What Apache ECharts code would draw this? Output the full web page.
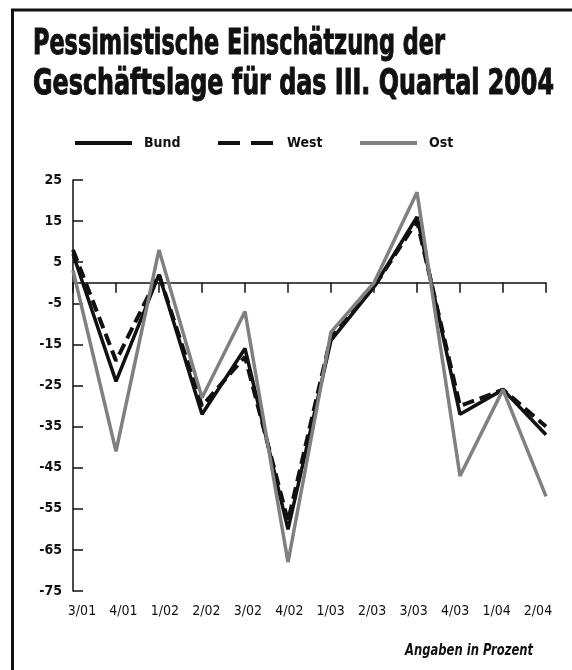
<!DOCTYPE html>
<html>
<head>
<meta charset="utf-8">
<script src="https://cdn.jsdelivr.net/npm/echarts@6/dist/echarts.min.js"></script>
<style>
html,body{margin:0;padding:0;background:#fff;}
#chart{width:572px;height:670px;}
</style>
</head>
<body>
<div id="chart"></div>
<script>
// ---- data ----
const categories = ['3/01','4/01','1/02','2/02','3/02','4/02','1/03','2/03','3/03','4/03','1/04','2/04'];
const bund = [7, -24, 2, -32, -16, -60, -14, -1, 16, -32, -26, -37];
const west = [8, -19, 2, -30, -18, -58, -13, -1, 15, -30, -26, -35];
const ost  = [3, -41, 8, -28, -7, -68, -12, 0, 22, -47, -26, -52];
const yTicks = [25, 15, 5, -5, -15, -25, -35, -45, -55, -65, -75];
const titleLines = ['Pessimistische Einschätzung der', 'Geschäftslage für das III. Quartal 2004'];
const seriesNames = ['Bund', 'West', 'Ost'];
const noteText = 'Angaben in Prozent';

const FONT = "'DejaVu Sans Condensed', 'Liberation Sans Narrow', 'Roboto', sans-serif";
const INK = '#111111';
const GREY = '#808080';

function measure(text, font) {
  const c = document.createElement('canvas').getContext('2d');
  c.font = font;
  return c.measureText(text).width;
}
const titleFont = 'bold 36px ' + FONT;
const t1Scale = 412 / measure(titleLines[0], titleFont);
const t2Scale = 521 / measure(titleLines[1], titleFont);
const noteFont = 'italic bold 15px ' + FONT;
const noteScale = Math.min(1, 128 / measure(noteText, noteFont));

const chart = echarts.init(document.getElementById('chart'), null, {renderer: 'canvas'});

function legendFor(name, left, lineType) {
  return {
    left: left,
    top: 136,
    padding: 0,
    itemWidth: 57,
    itemHeight: 3,
    itemStyle: {opacity: 0},
    lineStyle: {width: 4, type: lineType},
    textStyle: {fontFamily: FONT, fontWeight: 'bold', fontSize: 14, color: INK, padding: [0, 0, 0, 7]},
    selectedMode: false,
    data: [{name: name}]
  };
}

chart.setOption({
  animation: false,
  backgroundColor: '#ffffff',
  graphic: [
    {type: 'polyline', shape: {points: [[12.5, 670], [12.5, 10], [572, 10]]}, style: {stroke: INK, lineWidth: 3, fill: null}},
    {type: 'text', x: 33, y: 45, scaleX: t1Scale, style: {text: titleLines[0], font: titleFont, fill: INK, stroke: INK, lineWidth: 1, align: 'left', verticalAlign: 'middle'}},
    {type: 'text', x: 33, y: 85, scaleX: t2Scale, style: {text: titleLines[1], font: titleFont, fill: INK, stroke: INK, lineWidth: 1, align: 'left', verticalAlign: 'middle'}},
    {type: 'text', x: 533, y: 651, scaleX: noteScale, style: {text: noteText, font: noteFont, fill: INK, align: 'right', verticalAlign: 'middle'}}
  ],
  legend: [
    legendFor(seriesNames[0], 73, 'solid'),
    legendFor(seriesNames[1], 216, [22, 11]),
    legendFor(seriesNames[2], 358, 'solid')
  ],
  grid: [
    {left: 73, right: 26, top: 180, bottom: 79},
    {left: 82, right: 34, top: 180, bottom: 79}
  ],
  xAxis: [
    {
      type: 'category', gridIndex: 0, data: categories, boundaryGap: false,
      axisLine: {onZero: true, lineStyle: {color: INK, width: 1.5}},
      axisTick: {show: true, length: 10, interval: 0, lineStyle: {color: INK, width: 1.5}},
      axisLabel: {show: false},
      splitLine: {show: false}
    },
    {
      type: 'category', gridIndex: 1, data: categories, boundaryGap: false, position: 'bottom',
      axisLine: {show: false}, axisTick: {show: false},
      axisLabel: {show: true, interval: 0, margin: 13, fontFamily: FONT, fontSize: 14, color: INK},
      splitLine: {show: false}
    }
  ],
  yAxis: [
    {
      type: 'value', gridIndex: 0, min: -75, max: 25, interval: 10,
      axisLine: {show: true, onZero: false, lineStyle: {color: INK, width: 1.5}},
      axisTick: {show: true, inside: true, length: 10, customValues: yTicks, lineStyle: {color: INK, width: 1.5}},
      axisLabel: {show: true, margin: 11, customValues: yTicks, fontFamily: FONT, fontWeight: 'bold', fontSize: 14, color: INK},
      splitLine: {show: false}
    },
    {type: 'value', gridIndex: 1, min: -75, max: 25, show: false}
  ],
  series: [
    {name: seriesNames[1], type: 'line', data: west, symbol: 'none', xAxisIndex: 0, yAxisIndex: 0,
     lineStyle: {color: INK, width: 4, type: [12, 6]}, itemStyle: {color: INK}, z: 2},
    {name: seriesNames[0], type: 'line', data: bund, symbol: 'none', xAxisIndex: 0, yAxisIndex: 0,
     lineStyle: {color: INK, width: 3.5}, itemStyle: {color: INK}, z: 3},
    {name: seriesNames[2], type: 'line', data: ost, symbol: 'none', xAxisIndex: 0, yAxisIndex: 0,
     lineStyle: {color: GREY, width: 3.5}, itemStyle: {color: GREY}, z: 4}
  ]
});
</script>
</body>
</html>
